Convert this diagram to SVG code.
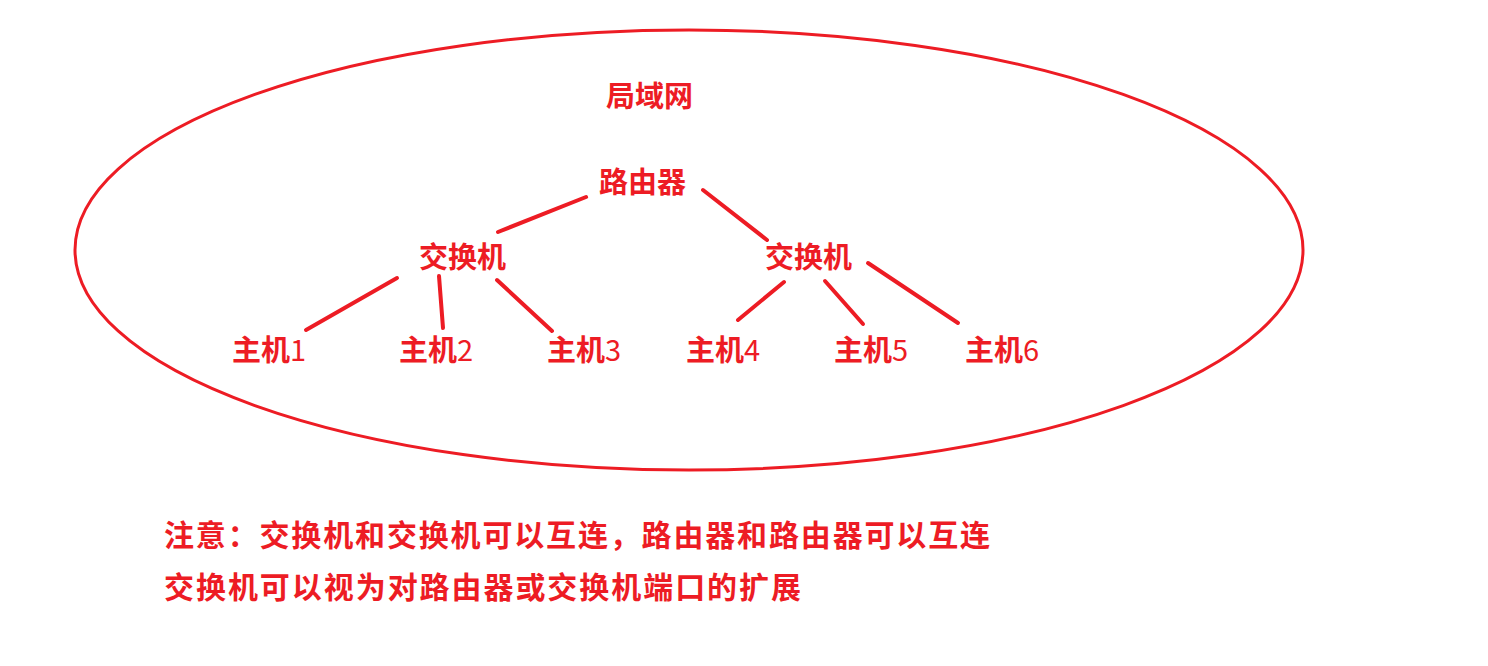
<svg xmlns="http://www.w3.org/2000/svg" width="1488" height="666" viewBox="0 0 1488 666">
<style>
.t{font-family:"Noto Sans CJK SC","Microsoft YaHei",sans-serif;font-weight:bold;fill:#ED1C24;font-size:29px}
.n{font-weight:normal}
.b{font-size:30px}
.c line{stroke:#ED1C24;stroke-width:4;stroke-linecap:round}
</style>
<rect width="1488" height="666" fill="#fff"/>
<g id="lan">
<ellipse cx="689" cy="250" rx="614" ry="220" fill="none" stroke="#ED1C24" stroke-width="3"/>
<text class="t" x="606" y="107">局域网</text>
</g>
<g id="router"><text class="t" x="599" y="193">路由器</text></g>
<g id="switch1"><text class="t" x="419" y="268">交换机</text></g>
<g id="switch2"><text class="t" x="765" y="268">交换机</text></g>
<g id="host1"><text class="t" x="232" y="361">主机<tspan class="n">1</tspan></text></g>
<g id="host2"><text class="t" x="399" y="361">主机<tspan class="n">2</tspan></text></g>
<g id="host3"><text class="t" x="547" y="361">主机<tspan class="n">3</tspan></text></g>
<g id="host4"><text class="t" x="686" y="361">主机<tspan class="n">4</tspan></text></g>
<g id="host5"><text class="t" x="834" y="361">主机<tspan class="n">5</tspan></text></g>
<g id="host6"><text class="t" x="965" y="361">主机<tspan class="n">6</tspan></text></g>
<g id="connectors" class="c">
<line x1="498" y1="232" x2="586" y2="197"/>
<line x1="703" y1="190" x2="767" y2="240"/>
<line x1="306" y1="330" x2="397" y2="278"/>
<line x1="439" y1="276" x2="443" y2="328"/>
<line x1="497" y1="280" x2="552" y2="331"/>
<line x1="738" y1="320" x2="784" y2="282"/>
<line x1="825" y1="281" x2="863" y2="324"/>
<line x1="868" y1="263" x2="958" y2="323"/>
</g>
<g id="note">
<text class="t b" x="164" y="546" textLength="826" lengthAdjust="spacing">注意：交换机和交换机可以互连，路由器和路由器可以互连</text>
<text class="t b" x="164" y="598" textLength="637" lengthAdjust="spacing">交换机可以视为对路由器或交换机端口的扩展</text>
</g>
</svg>
